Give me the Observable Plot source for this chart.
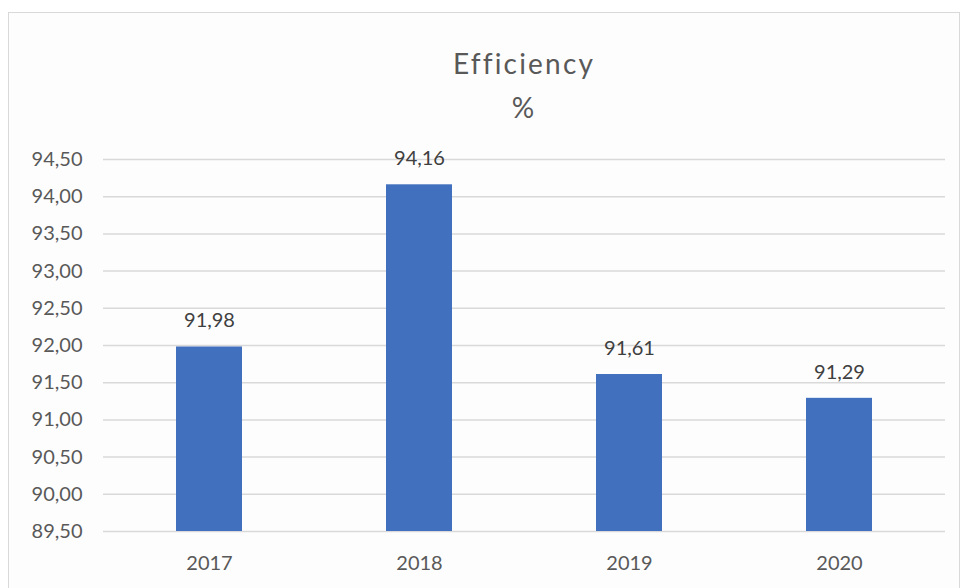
<!DOCTYPE html>
<html>
<head>
<meta charset="utf-8">
<script src="https://cdn.jsdelivr.net/npm/d3@7"></script>
<script src="https://cdn.jsdelivr.net/npm/@observablehq/plot@0.6"></script>
<style>
  body { margin: 0; background: #fff; }
  #wrap { position: relative; width: 963px; height: 588px; overflow: hidden; font-family: Lato, "Open Sans", sans-serif; font-variant-ligatures: none; }
  #frame { position: absolute; left: 8px; top: 12px; width: 952px; height: 620px; border: 1.5px solid #d9d9d9; background: #fdfdfd; box-sizing: border-box; }
  #title { position: absolute; left: 103px; width: 842px; top: 41px; text-align: center; font-size: 28px; letter-spacing: 2.2px; line-height: 44px; color: #595959; }
  #chart { position: absolute; left: 0; top: 140px; }
  #chart svg text { font-variant-ligatures: none; }
</style>
</head>
<body>
<div id="wrap">
  <div id="frame"></div>
  <div id="title">Efficiency<br>%</div>
  <div id="chart"></div>
</div>
<script>
const years = ["2017", "2018", "2019", "2020"];
const values = [91.98, 94.16, 91.61, 91.29];
const yTicks = [89.5, 90, 90.5, 91, 91.5, 92, 92.5, 93, 93.5, 94, 94.5];
const yBase = 89.5;

const data = years.map((year, i) => ({year, value: values[i]}));
const fmt = d => d.toFixed(2).replace(".", ",");

const chart = Plot.plot({
  width: 963,
  height: 448,
  marginTop: 19,
  marginBottom: 57,
  marginLeft: 103,
  marginRight: 18,
  style: {fontFamily: "Lato, 'Open Sans', sans-serif", fontSize: "20px", background: "transparent", overflow: "visible"},
  x: {domain: years, paddingInner: 0.686, paddingOuter: 0.343, label: null},
  y: {domain: [89.5, 94.5], label: null},
  marks: [
    Plot.ruleY(yTicks, {stroke: "#d9d9d9", strokeWidth: 1.5}),
    Plot.barY(data, {x: "year", y1: yBase, y2: "value", fill: "#4070BE"}),
    Plot.text(data, {x: "year", y: "value", text: d => fmt(d.value), dy: -26, fill: "#404040", fontSize: 20}),
    Plot.axisY({ticks: yTicks, tickSize: 0, tickPadding: 21, tickFormat: fmt, color: "#595959", fontSize: 20, label: null}),
    Plot.axisX({tickSize: 0, tickPadding: 24, color: "#595959", fontSize: 20, label: null})
  ]
});
document.getElementById("chart").appendChild(chart);
</script>
</body>
</html>
